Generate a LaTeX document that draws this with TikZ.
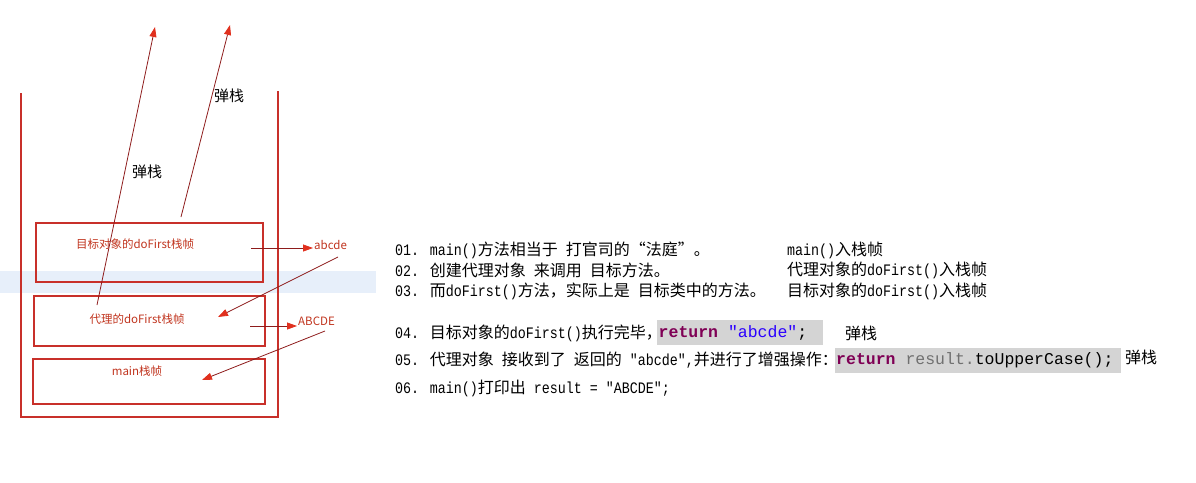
\documentclass[tikz,border=0pt]{standalone}
\usepackage{fontspec}
\usepackage{tikz}
\usetikzlibrary{arrows.meta,positioning}
\newfontfamily\cjk{Noto Sans CJK SC}
\newfontfamily\monofnt{Liberation Mono}
\newfontfamily\hwfnt[FakeStretch=0.833]{Liberation Mono}
\newcommand{\hw}[1]{{\hwfnt\fontsize{16}{18}\selectfont #1}}
\newcommand{\cd}[1]{{\monofnt\fontsize{16.5}{19}\selectfont #1}}
\newcommand{\cdsp}{\hspace*{0.6em}}
\definecolor{framered}{HTML}{C8302A}
\definecolor{linered}{HTML}{8E1C1C}
\definecolor{headred}{HTML}{E0301E}
\definecolor{lblred}{HTML}{C0341E}
\definecolor{band}{HTML}{E7EFFA}
\definecolor{hl}{HTML}{D4D4D4}
\definecolor{kw}{HTML}{7F0055}
\definecolor{str}{HTML}{2A00FF}
\definecolor{var}{HTML}{707070}
\tikzset{
  frame/.style={draw=framered, line width=2pt, inner sep=0pt},
  lbl/.style={text=lblred, font=\cjk\fontsize{11.5}{13}\selectfont, inner sep=1pt},
  pop/.style={font=\cjk\fontsize{15}{17}\selectfont, inner sep=1pt},
  ln/.style={anchor=west, inner sep=0pt, font=\cjk\fontsize{16}{18}\selectfont},
  hlbox/.style={fill=hl, inner sep=0pt},
  arr/.style={draw=linered, line width=0.8pt, -{Triangle[length=10pt,width=7pt,color=headred]}}
}
\begin{document}
\begin{tikzpicture}[x=1pt,y=-1pt]
  \useasboundingbox (0,0) rectangle (1196,482);
  \fill[band] (0,271) rectangle (376,293);
  \draw[framered, line width=2pt] (21,93) -- (21,417) -- (278,417) -- (278,91);
  \node[frame, minimum width=227pt, minimum height=59pt] (tgt) at (149.5,252.5) {};
  \node[frame, minimum width=231pt, minimum height=50pt] (prx) at (149.5,321) {};
  \node[frame, minimum width=232pt, minimum height=45pt] (mn) at (149,381.5) {};
  \node[lbl] (tgtl) at (135,244) {目标对象的doFirst栈帧};
  \node[lbl] (prxl) at (137,319) {代理的doFirst栈帧};
  \node[lbl] (mnl) at (137,371) {main栈帧};
  \node[lbl, anchor=west] (abc) at (313,245) {abcde};
  \node[lbl, anchor=west] (ABC) at (297,321) {ABCDE};
  \node[pop] (pop1) at (229,96) {弹栈};
  \node[pop] (pop2) at (147,172) {弹栈};
  \coordinate (s1) at (251,248);
  \coordinate (s2) at (250,326);
  \coordinate (s3) at (338,257);
  \coordinate (e3) at (218,317);
  \coordinate (s4) at (325,331);
  \coordinate (e4) at (202,380);
  \coordinate (s5) at (97,305);
  \coordinate (e5) at (155,27);
  \coordinate (s6) at (181,217);
  \coordinate (e6) at (230,25);
  \draw[arr] (s1) -- (s1 -| abc.west);
  \draw[arr] (s2) -- (s2 -| ABC.west);
  \draw[arr] (s3) -- (e3);
  \draw[arr] (s4) -- (e4);
  \draw[arr] (s5) -- (e5);
  \draw[arr] (s6) -- (e6);
  \node[ln] (l1) at (395,250) {\hw{01. main()}方法相当于\hw{ }打官司的“法庭”。};
  \node[ln] (l2) at (395,270) {\hw{02. }创建代理对象\hw{ }来调用\hw{ }目标方法。};
  \node[ln] (l3) at (395,291) {\hw{03. }而\hw{doFirst()}方法，实际上是\hw{ }目标类中的方法。};
  \node[ln] (r1) at (787,250) {\hw{main()}入栈帧};
  \node[ln] (r2) at (787,270) {代理对象的\hw{doFirst()}入栈帧};
  \node[ln] (r3) at (787,291) {目标对象的\hw{doFirst()}入栈帧};
  \node[ln] (l4) at (395,333) {\hw{04. }目标对象的\hw{doFirst()}执行完毕，};
  \node[hlbox, anchor=west, minimum width=166pt, minimum height=25pt, text width=163pt, align=left] (h4) at (657,332.5)
    {\cd{\textbf{\color{kw}return}\cdsp{\color{str}"abcde"};}};
  \node[ln] (p4) at (845,333) {弹栈};
  \node[ln] (l5) at (395,360) {\hw{05. }代理对象\hw{ }接收到了\hw{ }返回的\hw{ "abcde",}并进行了增强操作：};
  \node[hlbox, anchor=west, minimum width=286pt, minimum height=25pt, text width=284pt, align=left] (h5) at (835,360.5)
    {\cd{\textbf{\color{kw}return}\cdsp{\color{var}result.}toUpperCase();}};
  \node[ln] (p5) at (1125,357) {弹栈};
  \node[ln] (l6) at (395,388) {\hw{06. main()}打印出\hw{ result = "ABCDE";}};
\end{tikzpicture}
\end{document}
